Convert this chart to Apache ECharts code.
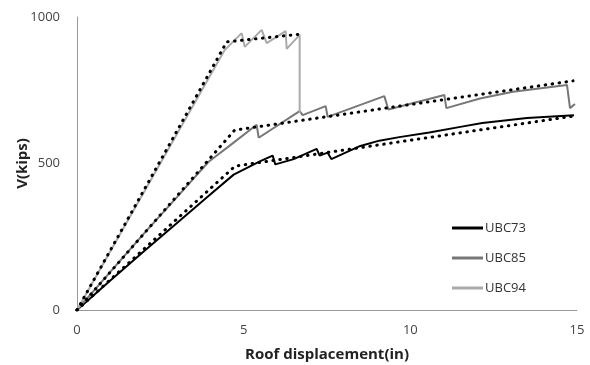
<!DOCTYPE html>
<html>
<head>
<meta charset="utf-8">
<title>pushover</title>
<script src="https://cdn.jsdelivr.net/npm/echarts@6/dist/echarts.min.js"></script>
<style>
    html, body { margin: 0; padding: 0; background: #fff; }
    #pushover { width: 590px; height: 365px; }
</style>
</head>
<body>
<div id="pushover"></div>
<script>
// roof displacement (in) vs V (kips)
var ubc73 = [[0, 0], [1, 101], [2, 200], [3, 297], [3.9, 385], [4.7, 462], [5.5, 508], [5.87, 527], [5.95, 497],
    [6.5, 515], [7.19, 550], [7.28, 527], [7.52, 537], [7.63, 515], [8.5, 560], [9.07, 578], [9.67, 590],
    [10.57, 606], [11.5, 625], [12.16, 638], [13.5, 655], [14.91, 665]];
var ubc85 = [[0, 0], [1, 130], [2, 260], [3, 385], [3.94, 505], [4.64, 566], [5.39, 632], [5.45, 588],
    [6.68, 679], [6.77, 665], [7.46, 696], [7.52, 659], [9.22, 730], [9.34, 684], [11.02, 734], [11.08, 689],
    [12.09, 722], [13.08, 745], [14.1, 759], [14.7, 768], [14.79, 689], [14.94, 703]];
var ubc94 = [[0, 0], [4.43, 887], [4.94, 945], [5.03, 898], [5.54, 956], [5.69, 911], [6.26, 952], [6.29, 891],
    [6.68, 939], [6.68, 672]];
// bilinear idealisations (dotted)
var ubc73Bi = [[0, 0], [4.74, 491], [14.91, 662]];
var ubc85Bi = [[0, 0], [4.73, 614], [14.88, 782]];
var ubc94Bi = [[0, 0], [4.49, 915], [6.74, 942]];

var names = ['UBC73', 'UBC85', 'UBC94'];
var colors = ['#000000', '#777777', '#aaaaaa'];
var font = '"Open Sans", "Liberation Sans", sans-serif';

var chart = echarts.init(document.getElementById('pushover'), null, {renderer: 'canvas'});

function solid(name, data, color) {
    return {
        name: name, type: 'line', data: data, showSymbol: false, symbol: 'none',
        lineStyle: {color: color, width: 2}, itemStyle: {color: color}, z: 2
    };
}
function dotted(data) {
    return {
        type: 'line', data: data, showSymbol: false, symbol: 'none', silent: true,
        lineStyle: {color: '#000', width: 3, type: [0.5, 6.5], cap: 'round'}, z: 3
    };
}

var option = {
    animation: false,
    backgroundColor: '#fff',
    grid: {left: 77, right: 13, top: 17, bottom: 55, containLabel: false, outerBoundsMode: 'none'},
    legend: {
        orient: 'vertical', left: 447, top: 215,
        data: names, icon: 'rect', itemWidth: 31, itemHeight: 3, itemGap: 14,
        textStyle: {fontFamily: font, fontSize: 13, color: '#333', lineHeight: 16, padding: [0, 0, 0, -3]}
    },
    xAxis: {
        type: 'value', min: 0, max: 15, interval: 5,
        name: 'Roof displacement(in)', nameLocation: 'middle', nameGap: 37, nameMoveOverlap: false,
        nameTextStyle: {fontFamily: font, fontSize: 15, fontWeight: 'bold', color: '#222'},
        axisLine: {show: true, lineStyle: {color: '#999', width: 1}},
        axisTick: {show: false}, splitLine: {show: false},
        axisLabel: {margin: 14, fontFamily: font, fontSize: 13, color: '#444'}
    },
    yAxis: {
        type: 'value', min: 0, max: 1000, interval: 500,
        name: 'V(kips)', nameLocation: 'middle', nameGap: 47, nameMoveOverlap: false,
        nameTextStyle: {fontFamily: font, fontSize: 15, fontWeight: 'bold', color: '#222'},
        axisLine: {show: true, lineStyle: {color: '#999', width: 1}},
        axisTick: {show: false}, splitLine: {show: false},
        axisLabel: {margin: 17, fontFamily: font, fontSize: 13, color: '#444',
            formatter: function (v) { return String(v); }}
    },
    series: [
        solid(names[0], ubc73, colors[0]),
        solid(names[1], ubc85, colors[1]),
        solid(names[2], ubc94, colors[2]),
        dotted(ubc73Bi),
        dotted(ubc85Bi),
        dotted(ubc94Bi)
    ]
};
chart.setOption(option);
</script>
</body>
</html>
